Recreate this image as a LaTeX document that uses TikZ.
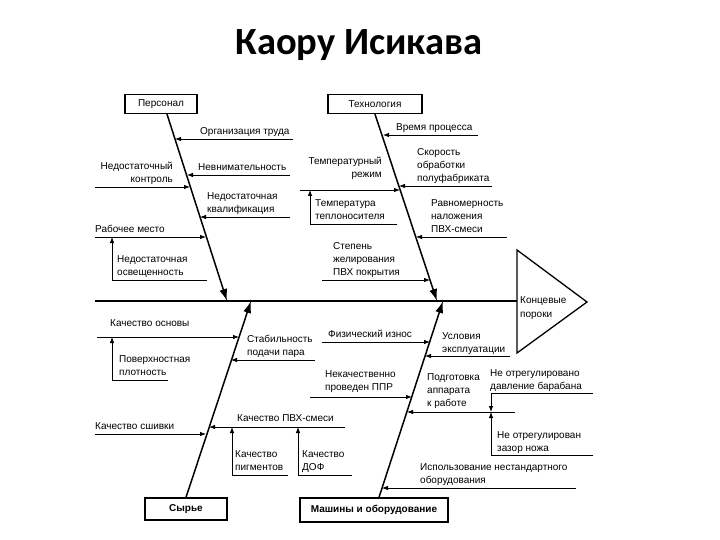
\documentclass[tikz,border=0pt]{standalone}
\usepackage{fontspec}
\setmainfont{Liberation Sans}
\newfontfamily\titlefont{Carlito}
\usetikzlibrary{arrows.meta}

\newcommand{\lblfont}{\fontsize{10}{13.2}\selectfont}

\begin{document}
\begin{tikzpicture}[
    x=1pt, y=-1pt,
    box/.style={draw, line width=1.3pt, minimum height=19pt, inner sep=1pt, font=\lblfont},
    bone/.style={line width=1.5pt, -{Latex[length=12pt,width=8pt]}},
    twig/.style={line width=0.8pt, -{Latex[length=6pt,width=4.5pt]}},
    rule/.style={line width=0.8pt},
    lbl/.style={font=\lblfont, inner sep=1pt, text depth=2pt, align=left}
]
\useasboundingbox (0,0) rectangle (720,540);

% Title
\node[font=\titlefont\bfseries\fontsize{38.5}{46}\selectfont, anchor=base] (title) at (359,55) {Каору Исикава};

% Head and spine
\coordinate (hT) at (517,250);
\coordinate (hA) at (587,302);
\coordinate (hB) at (517,353);
\draw[line width=1.3pt] (hT) -- (hA) -- (hB) -- cycle;
\node[lbl, anchor=west] (head) at (519,308) {Концевые\\пороки};
\coordinate (tail) at (95,301);
\coordinate (headL) at (517,301);
\draw[line width=1.2pt] (tail) -- (headL);

% Category boxes
\node[box, minimum width=72pt] (pers) at (161,104) {Персонал};
\node[box, minimum width=94pt] (tech) at (375,104) {Технология};
\node[box, minimum width=82pt, minimum height=22pt, font=\lblfont\bfseries] (raw) at (186,509) {Сырье};
\node[box, minimum width=148pt, minimum height=24pt, font=\lblfont\bfseries] (mach) at (374,510) {Машины и оборудование};

% Main bones
\coordinate (pS) at (227,301);
\coordinate (tS) at (437,301);
\coordinate (rS) at (251,301);
\coordinate (mS) at (443,301);
\draw[bone] ([xshift=6pt]pers.south) -- (pS);
\draw[bone] (tech.south) -- (tS);
\draw[bone] (raw.north) -- (rS);
\draw[bone] ([xshift=5pt]mach.north) -- (mS);

% Персонал
\coordinate (org) at (293,139);  \coordinate (orgB) at (175,139);
\coordinate (nev) at (290,175);  \coordinate (nevB) at (187,175);
\coordinate (kon) at (95,187);   \coordinate (konB) at (190,187);
\coordinate (kva) at (290,217);  \coordinate (kvaB) at (200,217);
\coordinate (rab) at (95,237);   \coordinate (rabB) at (206,237);
\coordinate (osv) at (112,280);  \coordinate (osvE) at (207,280);
\draw[twig] (org) -- (orgB);
\draw[twig] (nev) -- (nevB);
\draw[twig] (kon) -- (konB);
\draw[twig] (kva) -- (kvaB);
\draw[twig] (rab) -- (rabB);
\draw[rule] (osvE) -- (osv);
\draw[twig] (osv) -- (rab -| osv);
\node[lbl, anchor=south west] (orgT) at (199,138) {Организация труда};
\node[lbl, anchor=south west] (nevT) at (197,174) {Невнимательность};
\node[lbl, anchor=south east, align=right] (konT) at (174,186) {Недостаточный\\контроль};
\node[lbl, anchor=south west] (kvaT) at (206,216) {Недостаточная\\квалификация};
\node[lbl, anchor=south west] (rabT) at (94,235.5) {Рабочее место};
\node[lbl, anchor=south west] (osvT) at (116,279) {Недостаточная\\освещенность};

% Технология
\coordinate (vre) at (478,135);  \coordinate (vreB) at (383,135);
\coordinate (sko) at (492,186);  \coordinate (skoB) at (399,186);
\coordinate (rez) at (300,190);  \coordinate (rezB) at (400,190);
\coordinate (tep) at (310,224);  \coordinate (tepE) at (397,224);
\coordinate (ravn) at (507,237); \coordinate (ravnB) at (416,237);
\coordinate (zhel) at (322,280); \coordinate (zhelB) at (430,280);
\draw[twig] (vre) -- (vreB);
\draw[twig] (sko) -- (skoB);
\draw[twig] (rez) -- (rezB);
\draw[rule] (tepE) -- (tep);
\draw[twig] (tep) -- (rez -| tep);
\draw[twig] (ravn) -- (ravnB);
\draw[twig] (zhel) -- (zhelB);
\node[lbl, anchor=south west] (vreT) at (395,134) {Время процесса};
\node[lbl, anchor=south west] (skoT) at (416,185) {Скорость\\обработки\\полуфабриката};
\node[lbl, anchor=south east, align=right] (rezT) at (383,181) {Температурный\\режим};
\node[lbl, anchor=south west] (tepT) at (314,223) {Температура\\теплоносителя};
\node[lbl, anchor=south west] (ravnT) at (430,236) {Равномерность\\наложения\\ПВХ-смеси};
\node[lbl, anchor=south west] (zhelT) at (332,279) {Степень\\желирования\\ПВХ покрытия};

% Сырье
\coordinate (osn) at (97,337);   \coordinate (osnB) at (239,337);
\coordinate (plo) at (112,380);  \coordinate (ploE) at (168,380);
\coordinate (sta) at (315,360);  \coordinate (staB) at (231,360);
\coordinate (pvh) at (345,427);  \coordinate (pvhB) at (209,427);
\coordinate (shv) at (95,434);   \coordinate (shvB) at (206,434);
\coordinate (pig) at (232,475);  \coordinate (pigE) at (288,475);
\coordinate (dof) at (298,475);  \coordinate (dofE) at (352,475);
\draw[twig] (osn) -- (osnB);
\draw[rule] (ploE) -- (plo);
\draw[twig] (plo) -- (osn -| plo);
\draw[twig] (sta) -- (staB);
\draw[twig] (pvh) -- (pvhB);
\draw[twig] (shv) -- (shvB);
\draw[rule] (pigE) -- (pig);
\draw[twig] (pig) -- (pvh -| pig);
\draw[rule] (dofE) -- (dof);
\draw[twig] (dof) -- (pvh -| dof);
\node[lbl, anchor=south west] (osnT) at (109,330) {Качество основы};
\node[lbl, anchor=south west] (ploT) at (118,379) {Поверхностная\\плотность};
\node[lbl, anchor=south west] (staT) at (246,359) {Стабильность\\подачи пара};
\node[lbl, anchor=south west] (pvhT) at (236,425) {Качество ПВХ-смеси};
\node[lbl, anchor=south west] (shvT) at (94,433) {Качество сшивки};
\node[lbl, anchor=south west] (pigT) at (234,474) {Качество\\пигментов};
\node[lbl, anchor=south west] (dofT) at (301,474) {Качество\\ДОФ};

% Машины и оборудование
\coordinate (izn) at (322,342);  \coordinate (iznB) at (430,342);
\coordinate (usl) at (510,356);  \coordinate (uslB) at (425,356);
\coordinate (ppr) at (310,397);  \coordinate (pprB) at (412,397);
\coordinate (pod) at (515,412);  \coordinate (podB) at (407,412);
\coordinate (dav) at (491,393);  \coordinate (davE) at (593,393);
\coordinate (noz) at (491,455);  \coordinate (nozE) at (593,455);
\coordinate (nes) at (576,488);  \coordinate (nesB) at (382,488);
\draw[twig] (izn) -- (iznB);
\draw[twig] (usl) -- (uslB);
\draw[twig] (ppr) -- (pprB);
\draw[twig] (pod) -- (podB);
\draw[rule] (davE) -- (dav);
\draw[twig] (dav) -- (pod -| dav);
\draw[rule] (nozE) -- (noz);
\draw[twig] (noz) -- (pod -| noz);
\draw[twig] (nes) -- (nesB);
\node[lbl, anchor=south west] (iznT) at (327,341) {Физический износ};
\node[lbl, anchor=south west] (uslT) at (441,355.5) {Условия\\эксплуатации};
\node[lbl, anchor=south west] (pprT) at (324,394) {Некачественно\\проведен ППР};
\node[lbl, anchor=south west] (podT) at (426,410) {Подготовка\\аппарата\\к работе};
\node[lbl, anchor=south west] (davT) at (489,392.5) {Не отрегулировано\\давление барабана};
\node[lbl, anchor=south west] (nozT) at (496,454.5) {Не отрегулирован\\зазор ножа};
\node[lbl, anchor=south west] (nesT) at (419,487) {Использование нестандартного\\оборудования};
\end{tikzpicture}
\end{document}
